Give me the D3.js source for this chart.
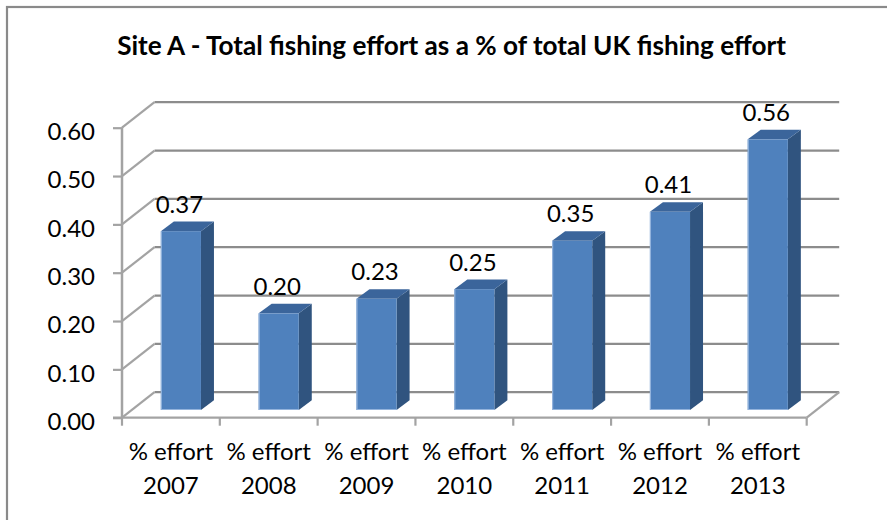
<!DOCTYPE html>
<html>
<head>
<meta charset="utf-8">
<script src="https://cdn.jsdelivr.net/npm/d3@7"></script>
<style>
  html, body { margin: 0; padding: 0; background: #fff; }
  svg { display: block; }
  text { font-family: Lato, "Liberation Sans", sans-serif; fill: #000; }
</style>
</head>
<body>
<svg id="chart" width="887" height="520"></svg>
<script>
// Share of total UK fishing effort at Site A, by year
const categories = ["2007", "2008", "2009", "2010", "2011", "2012", "2013"];
const categoryPrefix = "% effort";
const values = [0.37, 0.20, 0.23, 0.25, 0.35, 0.41, 0.56];
const yTicks = [0, 0.1, 0.2, 0.3, 0.4, 0.5, 0.6];
const chartTitle = "Site A - Total fishing effort as a % of total UK fishing effort";

const svg = d3.select("#chart");

// Front plane of the 3D plot box
const x0 = 122, x1 = 806.7, yBase = 417.7, yTop = 127.7;
// Perspective offset of the back wall and of the columns
const wallDX = 32.5, wallDY = -25.5;
const barFrontDX = 10, barFrontDY = -7.7;
const barDepthDX = 13, barDepthDY = -9.7;

const x = d3.scaleBand()
  .domain(categories)
  .range([x0, x1])
  .paddingInner(0.59)
  .paddingOuter(0.295);

const xCat = d3.scaleBand().domain(categories).range([x0, x1]).padding(0);

const y = d3.scaleLinear().domain([0, 0.6]).range([yBase, yTop]);

const gridColor = "#8c8c8c";
const axisColor = "#a3a3a3";
const labelSize = "24px";

// Chart frame
svg.append("rect")
  .attr("x", 7).attr("y", 7).attr("width", 900).attr("height", 540)
  .attr("fill", "none").attr("stroke", "#8a8a8a").attr("stroke-width", 2.2);

// Title, sized to its box
const title = svg.append("text")
  .attr("x", 451.5).attr("y", 55)
  .attr("text-anchor", "middle")
  .style("font-weight", "bold")
  .style("font-size", "24px")
  .text(chartTitle);
const tw = title.node().getComputedTextLength();
title.style("font-size", (24 * 669 / tw).toFixed(2) + "px");

// Walls: gridlines on the back wall and along the side wall
const walls = svg.append("g");
yTicks.forEach(t => {
  const yf = y(t);
  walls.append("line")
    .attr("x1", x0 + wallDX).attr("y1", yf + wallDY)
    .attr("x2", x1 + wallDX).attr("y2", yf + wallDY)
    .attr("stroke", gridColor).attr("stroke-width", 2.2);
  walls.append("line")
    .attr("x1", x0).attr("y1", yf)
    .attr("x2", x0 + wallDX).attr("y2", yf + wallDY)
    .attr("stroke", axisColor).attr("stroke-width", 2.2);
});

// Floor right edge
walls.append("line")
  .attr("x1", x1).attr("y1", yBase)
  .attr("x2", x1 + wallDX).attr("y2", yBase + wallDY)
  .attr("stroke", axisColor).attr("stroke-width", 2.2);

// Value axis
const yAxisG = svg.append("g").attr("transform", `translate(${x0},0)`);
yAxisG.call(d3.axisLeft(y).tickValues(yTicks).tickFormat(d3.format(".2f")).tickSize(9).tickPadding(0));
yAxisG.select(".domain").remove();
yAxisG.append("line")
  .attr("x1", 0).attr("x2", 0).attr("y1", yTop).attr("y2", yBase)
  .attr("stroke", axisColor).attr("stroke-width", 2.5);
yAxisG.selectAll(".tick line").attr("stroke", axisColor).attr("stroke-width", 2.2);
yAxisG.selectAll(".tick text")
  .attr("x", -27).attr("dy", null).attr("y", 11.8)
  .attr("text-anchor", "end")
  .style("font-size", labelSize).style("font-family", "Lato, 'Liberation Sans', sans-serif");

// Category axis
const xAxisG = svg.append("g").attr("transform", `translate(0,${yBase})`);
xAxisG.call(d3.axisBottom(xCat).tickSize(0).tickFormat(""));
xAxisG.select(".domain").remove();
xAxisG.append("line")
  .attr("x1", x0 - 9).attr("x2", x1).attr("y1", 0).attr("y2", 0)
  .attr("stroke", axisColor).attr("stroke-width", 2.2);
// tick marks at category boundaries
const bounds = categories.map(c => xCat(c)).concat([x1]);
xAxisG.selectAll("line.bound").data(bounds).join("line")
  .attr("class", "bound")
  .attr("x1", d => d).attr("x2", d => d).attr("y1", 0).attr("y2", 8)
  .attr("stroke", axisColor).attr("stroke-width", 2.2);

const xLabels = xAxisG.selectAll("text.cat").data(categories).join("text")
  .attr("class", "cat")
  .attr("text-anchor", "middle")
  .style("font-size", labelSize)
  .attr("transform", d => `translate(${xCat(d) + xCat.bandwidth() / 2},0)`);
xLabels.append("tspan").attr("x", 0).attr("y", 42).text(categoryPrefix);
xLabels.append("tspan").attr("x", 0).attr("y", 76).text(d => d);

// Columns
const data = categories.map((c, i) => ({ cat: c, value: values[i] }));
const bars = svg.append("g").selectAll("g.bar").data(data).join("g").attr("class", "bar");

bars.each(function (d) {
  const g = d3.select(this);
  const xl = x(d.cat) + barFrontDX;
  const xr = xl + x.bandwidth();
  const yb = y(0) + barFrontDY;
  const yt = y(d.value) + barFrontDY;
  const dx = barDepthDX, dy = barDepthDY;
  // right side face
  g.append("path")
    .attr("d", `M${xr},${yt}L${xr + dx},${yt + dy}L${xr + dx},${yb + dy}L${xr},${yb}Z`)
    .attr("fill", "#30547f");
  // top face
  g.append("path")
    .attr("d", `M${xl},${yt}L${xl + dx},${yt + dy}L${xr + dx},${yt + dy}L${xr},${yt}Z`)
    .attr("fill", "#3b659b");
  // front face
  g.append("rect")
    .attr("x", xl).attr("y", yt).attr("width", x.bandwidth()).attr("height", yb - yt)
    .attr("fill", "#4f81bd");
  // light rim along the left and bottom of the front face
  g.append("path")
    .attr("d", `M${xl + 0.5},${yt}L${xl + 0.5},${yb - 0.5}L${xr},${yb - 0.5}`)
    .attr("fill", "none").attr("stroke", "#93b3dc").attr("stroke-width", 1.2);

  // value label
  g.append("text")
    .attr("x", xl + x.bandwidth() / 2 - 1.5)
    .attr("y", yt + dy - 8.8)
    .attr("text-anchor", "middle")
    .style("font-size", labelSize)
    .text(d3.format(".2f")(d.value));
});
</script>
</body>
</html>
